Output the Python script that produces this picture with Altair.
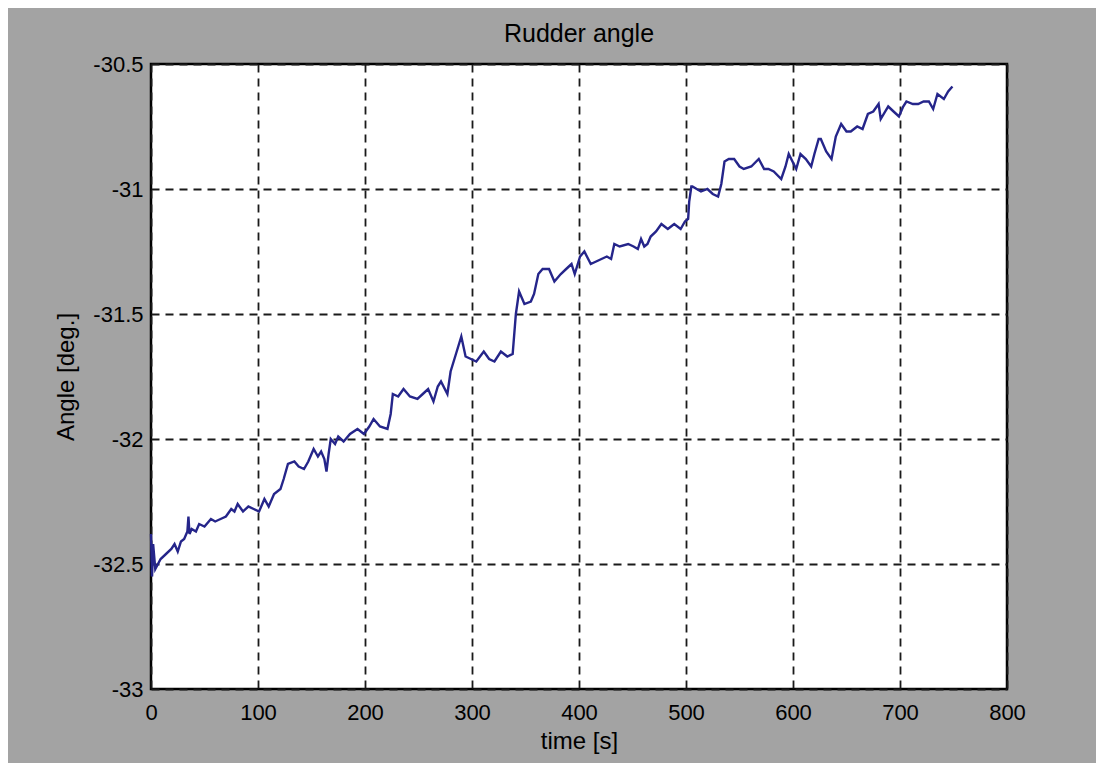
import altair as alt
import pandas as pd

times = [0,1,2,4,9,14,19,22,25,28,31,34,35,36,38,42,45,50,56,60,65,70,75,78,81,86,91,96,101,106,
         110,115,121,124,128,134,138,143,147,152,156,159,162,164,166,168,172,175,180,186,193,199,204,208,
         214,221,224,226,231,236,242,249,254,259,264,268,271,277,280,285,290,294,299,304,311,316,321,327,
         333,338,341,344,349,355,358,362,366,372,377,383,388,393,396,401,405,411,416,421,426,430,433,438,
         446,451,455,458,461,464,467,472,477,483,486,489,495,499,502,503,505,506,510,514,520,525,530,533,
         536,540,545,550,554,561,568,573,577,582,589,593,596,603,607,612,617,620,624,626,631,636,640,645,
         650,654,660,665,670,675,680,682,689,694,699,703,706,712,717,722,727,731,735,741,745,749]
angles = [-32.38,-32.55,-32.42,-32.52,-32.48,-32.46,-32.44,-32.42,-32.45,-32.41,-32.40,-32.37,-32.31,-32.38,
          -32.36,-32.37,-32.34,-32.35,-32.32,-32.33,-32.32,-32.31,-32.28,-32.29,-32.26,-32.29,-32.27,-32.28,
          -32.29,-32.24,-32.27,-32.22,-32.20,-32.16,-32.10,-32.09,-32.11,-32.12,-32.09,-32.04,-32.07,-32.05,
          -32.08,-32.13,-32.06,-32.00,-32.02,-31.99,-32.01,-31.98,-31.96,-31.98,-31.95,-31.92,-31.95,-31.96,
          -31.90,-31.82,-31.83,-31.80,-31.83,-31.84,-31.82,-31.80,-31.85,-31.79,-31.77,-31.82,-31.73,-31.66,
          -31.59,-31.67,-31.68,-31.69,-31.65,-31.68,-31.69,-31.65,-31.67,-31.66,-31.50,-31.41,-31.46,-31.45,
          -31.42,-31.34,-31.32,-31.32,-31.37,-31.34,-31.32,-31.30,-31.34,-31.27,-31.25,-31.30,-31.29,-31.28,
          -31.27,-31.28,-31.22,-31.23,-31.22,-31.23,-31.24,-31.20,-31.23,-31.22,-31.19,-31.17,-31.14,-31.16,
          -31.15,-31.14,-31.16,-31.13,-31.12,-31.05,-30.99,-30.99,-31.00,-31.01,-31.00,-31.02,-31.03,-30.98,
          -30.89,-30.88,-30.88,-30.91,-30.92,-30.91,-30.88,-30.92,-30.92,-30.93,-30.96,-30.91,-30.86,-30.92,
          -30.86,-30.88,-30.91,-30.86,-30.80,-30.80,-30.85,-30.88,-30.79,-30.74,-30.77,-30.77,-30.75,-30.76,
          -30.70,-30.69,-30.66,-30.72,-30.67,-30.69,-30.71,-30.67,-30.65,-30.66,-30.66,-30.65,-30.65,-30.68,
          -30.62,-30.64,-30.61,-30.59]

x_ticks = [0, 100, 200, 300, 400, 500, 600, 700, 800]
y_ticks = [-33, -32.5, -32, -31.5, -31, -30.5]

df = pd.DataFrame({"time": times, "angle": angles})

FONT = "Liberation Sans"

y_label_expr = ("(datum.value < 0 ? '-' : '') + "
                "(abs(datum.value) % 1 == 0 ? format(abs(datum.value), 'd') : format(abs(datum.value), '.1f'))")

chart = alt.Chart(df).mark_line(color="#25258a", strokeWidth=2.4).encode(
    x=alt.X("time:Q",
            scale=alt.Scale(domain=[0, 800], nice=False),
            axis=alt.Axis(values=x_ticks, title="time [s]", format="d", labelFlush=False,
                          labelPadding=13, titlePadding=6)),
    y=alt.Y("angle:Q",
            scale=alt.Scale(domain=[-33, -30.5], nice=False, zero=False),
            axis=alt.Axis(values=y_ticks, title="Angle [deg.]", labelExpr=y_label_expr,
                          labelFlush=False, labelPadding=8, titlePadding=14)),
).properties(
    width=856,
    height=625,
    title=alt.TitleParams("Rudder angle", fontSize=25, font=FONT, fontWeight="normal",
                          color="black", offset=6, anchor="middle"),
    autosize=alt.AutoSizeParams(type="none"),
    padding={"left": 143, "top": 56, "right": 89, "bottom": 74},
).configure(
    background="#a3a3a3",
).configure_view(
    fill="white", stroke="black", strokeWidth=2.5
).configure_axis(
    grid=True, gridColor="#1a1a1a", gridDash=[8, 6], gridWidth=1.8, gridOpacity=1,
    domain=False, ticks=False,
    labelFont=FONT, labelFontSize=22, labelColor="black",
    titleFont=FONT, titleFontSize=24, titleFontWeight="normal", titleColor="black",
)

chart.save("out.html", embed_options={"renderer": "svg", "actions": False})
